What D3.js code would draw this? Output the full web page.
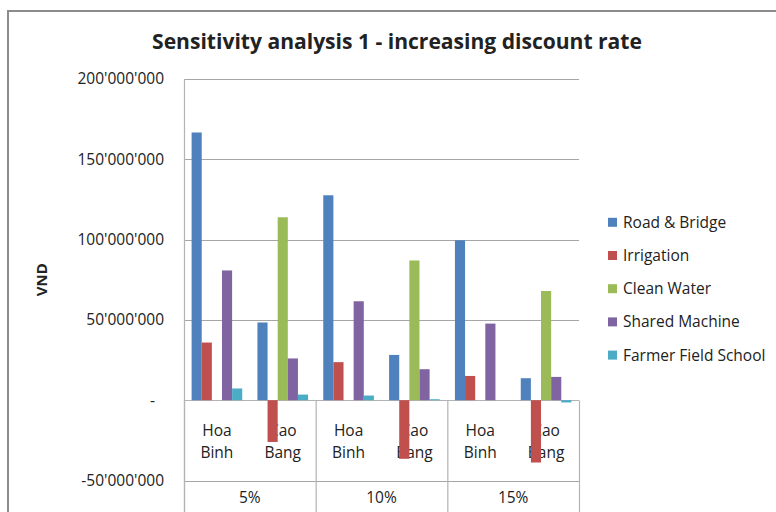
<!DOCTYPE html>
<html>
<head>
<meta charset="utf-8">
<script src="https://cdn.jsdelivr.net/npm/d3@7"></script>
<style>
  html, body { margin: 0; padding: 0; background: #fff; }
  svg { display: block; }
  text { font-family: "Open Sans", Lato, sans-serif; fill: #222; }
</style>
</head>
<body>
<svg id="chart" width="776" height="512"></svg>
<script>
// Discount-rate groups and the two provinces within each group
const rates = ["5%", "10%", "15%"];
const provinces = ["Hoa Binh", "Cao Bang"];

// Net values (million VND), one entry per rate × province, in order:
// 5% HB, 5% CB, 10% HB, 10% CB, 15% HB, 15% CB
const seriesNames = ["Road & Bridge", "Irrigation", "Clean Water", "Shared Machine", "Farmer Field School"];
const roadBridge    = [166.7, 48.4, 127.6, 28.2, 99.6, 13.7];
const irrigation    = [35.9, -26.0, 23.7, -36.5, 15.1, -38.8];
const cleanWater    = [0, 113.9, 0, 87.0, 0, 68.0];
const sharedMachine = [80.8, 26.0, 61.6, 19.3, 47.7, 14.5];
const farmerSchool  = [7.3, 3.5, 2.9, 0.6, 0, -1.4];
const seriesValues = [roadBridge, irrigation, cleanWater, sharedMachine, farmerSchool];
const seriesColors = ["#4F81BD", "#C0504D", "#9BBB59", "#8064A2", "#4BACC6"];

const yTicks = [-50e6, 0, 50e6, 100e6, 150e6, 200e6];

const svg = d3.select("#chart");
const labelSize = "15.5px";

// Chart frame
svg.append("rect")
  .attr("x", 8).attr("y", 11).attr("width", 900).attr("height", 700)
  .attr("fill", "none").attr("stroke", "#8c8c8c").attr("stroke-width", 2);

const plot = { left: 184, right: 579, top: 79, bottom: 480.5 };

// Sub-categories: every rate × province pair
const slots = [];
rates.forEach(r => provinces.forEach(p => slots.push({ rate: r, province: p, key: r + "|" + p })));

const x0 = d3.scaleBand().domain(slots.map(d => d.key)).range([plot.left, plot.right]).padding(0);
const x1 = d3.scaleBand().domain(seriesNames).range([0, x0.bandwidth()]).paddingInner(0).paddingOuter(0.75);
const xg = d3.scaleBand().domain(rates).range([plot.left, plot.right]).padding(0);
const y = d3.scaleLinear().domain([-50e6, 200e6]).range([plot.bottom, plot.top]);

// Horizontal gridlines
svg.append("g").selectAll("line").data(yTicks.filter(t => t !== 0)).join("line")
  .attr("x1", plot.left).attr("x2", plot.right)
  .attr("y1", d => Math.round(y(d)) + 0.5).attr("y2", d => Math.round(y(d)) + 0.5)
  .attr("stroke", "#a6a6a6").attr("stroke-width", 1.2);

// Value axis: apostrophe thousands separator, plain hyphen for negatives, dash for zero
const fmt = v => v === 0 ? "-" : d3.format(",")(v).replace(/,/g, "'").replace("\u2212", "-");
const yAxis = svg.append("g")
  .attr("transform", `translate(${plot.left},0)`)
  .call(d3.axisLeft(y).tickValues(yTicks).tickFormat(fmt).tickSize(0).tickPadding(20));
yAxis.select(".domain").remove();
yAxis.selectAll("text").style("font-size", labelSize).attr("fill", "#222")
  .style("font-family", "'Open Sans', Lato, sans-serif");
yAxis.selectAll("text").filter(d => d === 0).attr("dx", -9);

svg.append("line")
  .attr("x1", plot.left + 0.5).attr("x2", plot.left + 0.5)
  .attr("y1", plot.top).attr("y2", 512)
  .attr("stroke", "#b3b3b3").attr("stroke-width", 1.2);

// Axis title
svg.append("text")
  .attr("transform", `translate(47,${(plot.top + plot.bottom) / 2}) rotate(-90)`)
  .attr("text-anchor", "middle")
  .style("font-size", "15px").style("font-weight", "bold")
  .text("VND");

// Category axis at zero with two-level label boxes
const zeroY = Math.round(y(0)) + 0.5;
const cat = svg.append("g");
cat.append("line").attr("x1", plot.left).attr("x2", plot.right)
  .attr("y1", zeroY).attr("y2", zeroY).attr("stroke", "#b3b3b3").attr("stroke-width", 1.2);
cat.selectAll("line.div").data(rates.concat(["end"])).join("line").attr("class", "div")
  .attr("x1", (d, i) => i < rates.length ? xg(d) + 0.5 : plot.right + 0.5)
  .attr("x2", (d, i) => i < rates.length ? xg(d) + 0.5 : plot.right + 0.5)
  .attr("y1", zeroY).attr("y2", 512)
  .attr("stroke", "#b3b3b3").attr("stroke-width", 1.2);

cat.selectAll("text.prov").data(slots).join("text").attr("class", "prov")
  .attr("x", d => x0(d.key) + x0.bandwidth() / 2)
  .attr("text-anchor", "middle")
  .style("font-size", labelSize)
  .selectAll("tspan").data(d => d.province.split(" ")).join("tspan")
  .attr("x", function () { return d3.select(this.parentNode).attr("x"); })
  .attr("y", (d, i) => 436 + i * 22)
  .text(d => d);

cat.selectAll("text.rate").data(rates).join("text").attr("class", "rate")
  .attr("x", d => xg(d) + xg.bandwidth() / 2)
  .attr("y", 503)
  .attr("text-anchor", "middle")
  .style("font-size", labelSize)
  .text(d => d);

// Bars
const rows = slots.map((s, i) => ({ key: s.key, vals: seriesNames.map((n, k) => ({ name: n, v: seriesValues[k][i] * 1e6, c: seriesColors[k] })) }));
svg.append("g").selectAll("g").data(rows).join("g")
  .attr("transform", d => `translate(${x0(d.key)},0)`)
  .selectAll("rect").data(d => d.vals.filter(e => e.v !== 0)).join("rect")
  .attr("x", d => x1(d.name))
  .attr("width", x1.bandwidth())
  .attr("y", d => Math.min(y(d.v), y(0)))
  .attr("height", d => Math.abs(y(d.v) - y(0)))
  .attr("fill", d => d.c);

// Legend
const lg = svg.append("g").selectAll("g").data(seriesNames).join("g")
  .attr("transform", (d, i) => `translate(608,${222.3 + i * 33.2})`);
lg.append("rect").attr("x", 0).attr("y", -4.5).attr("width", 9).attr("height", 9)
  .attr("fill", (d, i) => seriesColors[i]);
lg.append("text").attr("x", 15).attr("y", 5.5).style("font-size", labelSize).text(d => d);

// Title, sized so it spans the width of the heading band
const title = svg.append("text")
  .attr("x", 397).attr("y", 49)
  .attr("text-anchor", "middle")
  .style("font-size", "20px").style("font-weight", "bold")
  .text("Sensitivity analysis 1 - increasing discount rate");
const tw = title.node().getComputedTextLength();
title.style("font-size", (20 * 490 / tw).toFixed(2) + "px");
</script>
</body>
</html>
